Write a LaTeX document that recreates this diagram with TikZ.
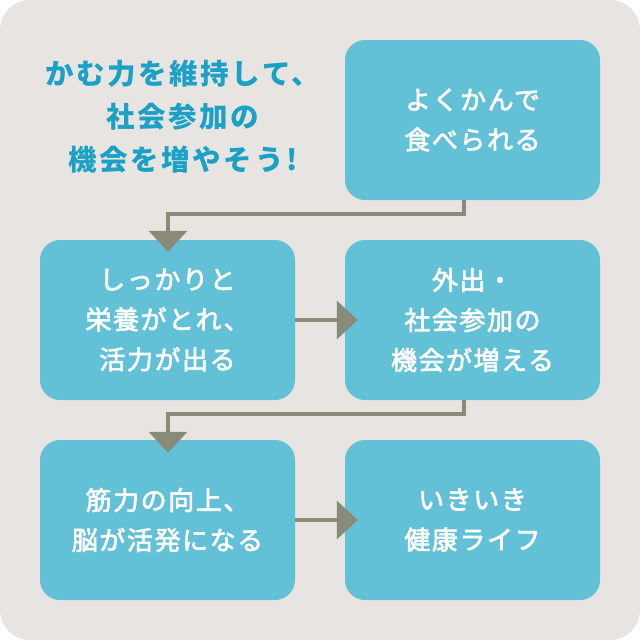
\documentclass[tikz,border=0pt]{standalone}
\usepackage{fontspec}
\usetikzlibrary{arrows.meta,calc}
\newfontfamily\jpfont[LetterSpace=9]{Noto Sans CJK JP}
\newfontfamily\jpbox[LetterSpace=6,FakeBold=2.6]{Noto Sans CJK JP}
\definecolor{bgc}{RGB}{232,228,225}
\definecolor{boxc}{RGB}{98,192,215}
\definecolor{arrc}{RGB}{138,138,120}
\definecolor{titlec}{RGB}{27,160,198}
\tikzset{
  stepbox/.style={fill=boxc, draw=none, rounded corners=20pt, minimum width=255pt, minimum height=160pt, inner sep=0pt,
    align=center, text=white, font=\jpbox\fontsize{26pt}{40pt}\selectfont},
  conn/.style={draw=arrc, line width=4pt, -{Triangle[width=38pt,length=21pt]}, arrc},
}
\begin{document}
\begin{tikzpicture}[x=1pt,y=-1pt]
\useasboundingbox (0,0) rectangle (640,640);
\fill[bgc, rounded corners=30pt] (0,0) rectangle (640,640);
\node[text=titlec, align=center, font=\jpfont\bfseries\fontsize{28.5pt}{43pt}\selectfont] (title) at (183,117) {かむ力を維持して、\\社会参加の\\機会を増やそう!};
\node[stepbox] (b1) at (472.5,120) {よくかんで\\食べられる};
\node[stepbox] (b2) at (167.5,320) {しっかりと\\栄養がとれ、\\活力が出る};
\node[stepbox] (b3) at (472.5,320) {外出・\\社会参加の\\機会が増える};
\node[stepbox] (b4) at (167.5,520) {筋力の向上、\\脳が活発になる};
\node[stepbox] (b5) at (472.5,520) {いきいき\\健康ライフ};
\draw[conn] ($(b1.south)+(-8.5,0)$) -- ++(0,14) -| ($(b2.north)+(0.5,12)$);
\draw[conn] (b2.east) -- ($(b3.west)+(13,0)$);
\draw[conn] ($(b3.south)+(-8.5,0)$) -- ++(0,14) -| ($(b4.north)+(0.5,13)$);
\draw[conn] (b4.east) -- ($(b5.west)+(13,0)$);
\end{tikzpicture}
\end{document}
